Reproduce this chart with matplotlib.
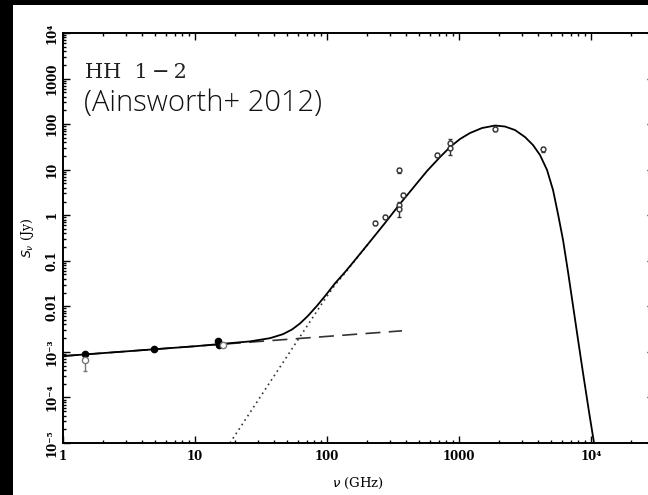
import matplotlib
matplotlib.use("Agg")
import matplotlib.pyplot as plt
from matplotlib.patches import Rectangle
from matplotlib.ticker import LogLocator, NullFormatter, FixedLocator, FixedFormatter

# total model SED (free-free + dust), GHz / Jy
model_nu = [1, 10, 26.1, 37.0, 46.4, 54.3, 62.4, 71.8, 84.0, 96.6, 115, 137, 163,
            212, 275, 351, 448, 572, 718, 855, 1018, 1211, 1493, 1875, 2230,
            2655, 3162, 3636, 4110, 4645, 5155, 5623, 6138, 6699, 7311, 7980,
            8700, 9660, 10540]
model_s = [8.1e-4, 1.33e-3, 1.7e-3, 2.0e-3, 2.45e-3, 3.1e-3, 4.2e-3, 6.2e-3,
           0.0103, 0.0168, 0.032, 0.0566, 0.104, 0.265, 0.675, 1.67, 3.95, 9.33,
           18.9, 31.4, 47.1, 63.7, 82.0, 93.1, 88.5, 74.1, 52.0, 34.7, 20.9, 9.82,
           3.57, 1.06, 0.286, 0.0566, 0.0102, 1.82e-3, 3.43e-4, 4.79e-5, 1e-5]

# free-free component
ff_nu = [1, 370]
ff_s = [8.1e-4, 2.9e-3]

# dust component
dust_nu = [18.4, 40, 62.4, 96.6, 115, 137, 163, 212]
dust_s = [1e-5, 3.05e-4, 2.15e-3, 0.0145, 0.0295, 0.054, 0.102, 0.262]

# cm fluxes
cm_nu = [1.46, 4.86, 15.0, 15.3]
cm_s = [9.0e-4, 1.15e-3, 1.7e-3, 1.45e-3]
cm_err = [0.6e-4, 0.7e-4, 1.2e-4, 1.6e-4]
cm2_nu = [1.46, 16.4]
cm2_s = [6.5e-4, 1.4e-3]
cm2_err = [2.6e-4, 0.8e-4]

# submm / far-IR fluxes
ir_nu = [231, 275, 353, 377, 350, 352, 677, 855, 855, 1875, 4300]
ir_s = [0.67, 0.93, 9.8, 2.8, 1.7, 1.35, 21, 38, 30, 80, 28]
ir_err = [0.07, 0.09, 1.2, 0.3, 0.25, 0.45, 2.0, 8.0, 9.0, 11, 3.0]

xticks = [1, 10, 100, 1000, 1e4]
xlabels = ["1", "10", "100", "1000", "10\u2074"]
yticks = [1e-5, 1e-4, 1e-3, 0.01, 0.1, 1, 10, 100, 1000, 1e4]
ylabels = ["10\u207b\u2075", "10\u207b\u2074", "10\u207b\u00b3", "0.01", "0.1",
           "1", "10", "100", "1000", "10\u2074"]

W, H = 648, 495
fig = plt.figure(figsize=(W / 100, H / 100), dpi=100, facecolor="black")
fig.patches.append(Rectangle((13 / W, 0), 1, (H - 5) / H, transform=fig.transFigure,
                             facecolor="white", edgecolor="none", zorder=-10))

ax = fig.add_axes([63 / W, 52 / H, (654 - 63) / W, 410 / H])
ax.set_xscale("log")
ax.set_yscale("log")
ax.set_xlim(1, 3e4)
ax.set_ylim(1e-5, 1e4)

ax.plot(model_nu, model_s, color="black", lw=1.3, zorder=3, solid_joinstyle="round")
ax.plot(ff_nu, ff_s, color="#333333", lw=1.2, dashes=(9, 5), zorder=2)
ax.plot(dust_nu, dust_s, color="#333333", lw=1.2, ls=(0, (1, 2.2)), zorder=2)

ax.errorbar(cm_nu, cm_s, yerr=cm_err, fmt="o", ms=4.5, color="black",
            elinewidth=1, capsize=1.5, zorder=4)
ax.errorbar(cm2_nu, cm2_s, yerr=cm2_err, fmt="o", ms=4.5, color="#777777",
            mfc="white", elinewidth=1, capsize=1.5, zorder=4)
ax.errorbar(ir_nu, ir_s, yerr=ir_err, fmt="o", ms=3.5, color="#333333",
            mfc="white", elinewidth=1, capsize=1.5, zorder=4)

for sp in ax.spines.values():
    sp.set_linewidth(1.4)

ax.xaxis.set_major_locator(FixedLocator(xticks))
ax.xaxis.set_major_formatter(FixedFormatter(xlabels))
ax.yaxis.set_major_locator(FixedLocator(yticks))
ax.yaxis.set_major_formatter(FixedFormatter(ylabels))
ax.xaxis.set_minor_locator(LogLocator(base=10, subs=range(2, 10), numticks=20))
ax.yaxis.set_minor_locator(LogLocator(base=10, subs=range(2, 10), numticks=20))
ax.xaxis.set_minor_formatter(NullFormatter())
ax.yaxis.set_minor_formatter(NullFormatter())
ax.tick_params(which="both", direction="in", top=True, right=True, width=1)
ax.tick_params(which="major", length=5)
ax.tick_params(which="minor", length=2.5)
ax.tick_params(axis="x", pad=5)
ax.tick_params(axis="y", pad=3)
for lab in ax.get_xticklabels() + ax.get_yticklabels():
    lab.set_fontfamily("DejaVu Serif")
    lab.set_fontweight("bold")
    lab.set_fontsize(8.5)
for lab in ax.get_yticklabels():
    lab.set_rotation(90)
    lab.set_va("center")

ax.set_xlabel(r"$\nu$ (GHz)", fontsize=9.5, family="DejaVu Serif", labelpad=9)
ax.set_ylabel(r"$S_\nu$ (Jy)", fontsize=9, family="DejaVu Serif", labelpad=7)

fig.text(85 / W, 1 - 72 / H, "HH  1\u2009\u2212\u20092", family="DejaVu Serif",
         fontsize=15, va="center", ha="left", color="#222222")
fig.text(84 / W, 1 - 103 / H, "(Ainsworth+ 2012)", family="Open Sans",
         fontweight="light", fontsize=21, va="center", ha="left", color="#111111")

fig.savefig("out.png", dpi=100, facecolor=fig.get_facecolor())
